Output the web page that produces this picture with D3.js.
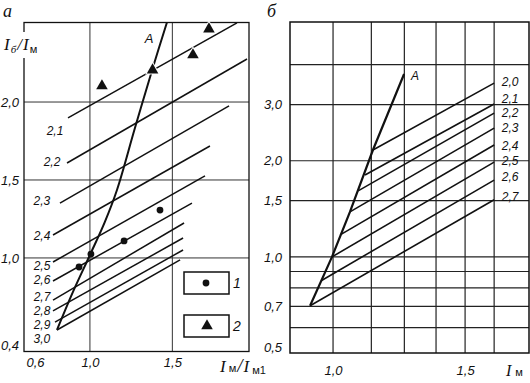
<!DOCTYPE html>
<html><head><meta charset="utf-8">
<script src="https://cdn.jsdelivr.net/npm/d3@7"></script>
<style>
html,body{margin:0;padding:0;background:#fff;}
svg{display:block;}
</style></head><body>
<svg id="c" width="530" height="383"></svg>
<script>
// ---------- panel а ----------
const leftLineLabels = ["2,1","2,2","2,3","2,4","2,5","2,6","2,7","2,8","2,9","3,0"];
const leftStartX = [0.867,0.861,0.818,0.776,0.776,0.776,0.776,0.776,0.788,0.800];
const leftStartY = [1.898,1.609,1.352,1.147,0.974,0.852,0.730,0.660,0.589,0.538];
const leftEndX   = [1.892,1.953,1.844,1.728,1.698,1.619,1.571,1.565,1.565,1.547];
const leftEndY   = [2.507,2.276,1.975,1.718,1.526,1.352,1.224,1.128,1.051,0.987];
const leftCurveAX = [0.800,0.897,1.000,1.090,1.164,1.273,1.383,1.467];
const leftCurveAY = [0.538,0.782,1.019,1.230,1.436,1.833,2.225,2.510];
const series1X = [0.934,1.006,1.207,1.425];
const series1Y = [0.942,1.025,1.109,1.307];
const series2X = [1.073,1.380,1.625,1.722];
const series2Y = [2.103,2.205,2.302,2.468];
const leftXTicks = [0.6,1.0,1.5];
const leftYTicks = [0.4,1.0,1.5,2.0];
const leftGridX = [1.0,1.5];
const leftGridY = [1.0,1.5,2.0];
const legendLabels = ["1","2"];

// ---------- panel б ----------
const rightLineLabels = ["2,0","2,1","2,2","2,3","2,4","2,5","2,6","2,7"];
const rightStartX = [1.151,1.121,1.095,1.064,1.027,0.996,0.955,0.913];
const rightStartY = [2.161,1.805,1.609,1.383,1.172,1.000,0.842,0.703];
const rightEndX   = [1.610,1.610,1.610,1.610,1.610,1.610,1.610,1.610];
const rightEndY   = [3.50,3.01,2.82,2.53,2.24,1.98,1.74,1.51];
const rightCurveAX = [0.913,0.996,1.064,1.151,1.269];
const rightCurveAY = [0.703,1.000,1.383,2.161,3.74];
const rightXTicks = [1.0,1.5];
const rightYTicks = [0.5,0.7,1.0,1.5,2.0,3.0];
const rightGridX = [1.0,1.145,1.27,1.39,1.5,1.61];
const rightGridY = [0.6,0.7,0.8,0.9,1.0,1.5,2.0,3.0,4.0];

// layout (pixel offsets of curve labels from line start / end)
const leftLabelOff = [[-13,13],[-15,-1],[-18,-2],[-11,1],[-11,4],[-11,-1],[-11,-3],[-11,0],[-13,3],[-15,9]];
const rightLabelOff = [[16,-1],[16,-5],[16,0],[16,0],[16,1],[16,-1],[16,-3],[16,-3]];

const NUM_FONT = "'Liberation Sans Narrow','Liberation Sans',sans-serif";
const SERIF = "'Liberation Serif','DejaVu Serif',serif";
const fmt = d => d3.format(".1f")(d).replace(".", ",");
const INK = "#111";
const LBL = 12;

const svg = d3.select("#c");
svg.append("rect").attr("width",530).attr("height",383).attr("fill","#fff");

function styleAxis(g, size){
  g.select(".domain").remove();
  g.attr("font-family", NUM_FONT).attr("font-size", size).attr("font-style","italic");
  g.selectAll("text").attr("fill", INK);
}

// ================= panel а =================
const xL = d3.scaleLinear().domain([0.6, 1.965]).range([24, 249]);
const yL = d3.scaleLinear().domain([0.4, 2.51]).range([351.5, 22.5]);
const gL = svg.append("g");

gL.selectAll(".gx").data(leftGridX).join("line")
  .attr("x1",d=>xL(d)).attr("x2",d=>xL(d)).attr("y1",yL.range()[0]).attr("y2",yL.range()[1])
  .attr("stroke","#333").attr("stroke-width",1);
gL.selectAll(".gy").data(leftGridY).join("line")
  .attr("y1",d=>yL(d)).attr("y2",d=>yL(d)).attr("x1",xL.range()[0]).attr("x2",xL.range()[1])
  .attr("stroke","#333").attr("stroke-width",1);
gL.append("rect").attr("x",xL.range()[0]).attr("y",yL.range()[1])
  .attr("width",xL.range()[1]-xL.range()[0]).attr("height",yL.range()[0]-yL.range()[1])
  .attr("fill","none").attr("stroke",INK).attr("stroke-width",1.3);

// parallel lines
gL.selectAll(".pl").data(leftLineLabels).join("line")
  .attr("x1",(d,i)=>xL(leftStartX[i])).attr("y1",(d,i)=>yL(leftStartY[i]))
  .attr("x2",(d,i)=>xL(leftEndX[i])).attr("y2",(d,i)=>yL(leftEndY[i]))
  .attr("stroke",INK).attr("stroke-width",1.5);
gL.selectAll(".pll").data(leftLineLabels).join("text")
  .attr("x",(d,i)=>xL(leftStartX[i])+leftLabelOff[i][0])
  .attr("y",(d,i)=>yL(leftStartY[i])+leftLabelOff[i][1])
  .attr("dy","0.36em").attr("text-anchor","middle")
  .attr("font-family",NUM_FONT).attr("font-style","italic").attr("font-size",LBL).attr("fill",INK)
  .text(d=>d);

// curve A
const lineA_L = d3.line().x(d=>xL(d[0])).y(d=>yL(d[1])).curve(d3.curveCatmullRom);
gL.append("path").attr("d", lineA_L(leftCurveAX.map((x,i)=>[x,leftCurveAY[i]])))
  .attr("fill","none").attr("stroke",INK).attr("stroke-width",2);
gL.append("text").attr("x",149).attr("y",43).attr("text-anchor","middle")
  .attr("font-family",NUM_FONT).attr("font-style","italic").attr("font-size",13).attr("fill",INK).text("A");

// series 1 (dots)
gL.selectAll(".s1").data(series1X).join("circle")
  .attr("cx",d=>xL(d)).attr("cy",(d,i)=>yL(series1Y[i])).attr("r",3.4).attr("fill",INK);
// series 2 (triangles)
const tri = d3.symbol(d3.symbolTriangle, 58);
gL.selectAll(".s2").data(series2X).join("path")
  .attr("d",tri).attr("transform",(d,i)=>`translate(${xL(d)},${yL(series2Y[i])})`)
  .attr("fill",INK).attr("stroke","#fff").attr("stroke-width",2).attr("paint-order","stroke");

// axes
const axL = gL.append("g").attr("transform",`translate(${xL.range()[0]},0)`)
  .call(d3.axisLeft(yL).tickValues(leftYTicks).tickSize(0).tickPadding(5).tickFormat(fmt));
styleAxis(axL, 13);
axL.selectAll("text").filter(d=>d===0.4).attr("dy","-0.15em");
const abL = gL.append("g").attr("transform",`translate(0,${yL.range()[0]})`)
  .call(d3.axisBottom(xL).tickValues(leftXTicks).tickSize(0).tickPadding(6).tickFormat(fmt));
styleAxis(abL, 13);
abL.selectAll("text").filter(d=>d===0.6).attr("dx",11);

// legend
const legY = [283, 326];
legendLabels.forEach((lab,i)=>{
  gL.append("rect").attr("x",184).attr("y",legY[i]-11).attr("width",45).attr("height",22)
    .attr("fill","#fff").attr("stroke",INK).attr("stroke-width",1.5);
  if(i===0) gL.append("circle").attr("cx",206).attr("cy",legY[i]).attr("r",3.4).attr("fill",INK);
  else gL.append("path").attr("d",tri).attr("transform",`translate(207,${legY[i]})`).attr("fill",INK);
  gL.append("text").attr("x",237).attr("y",legY[i]).attr("dy","0.36em").attr("text-anchor","middle")
    .attr("font-family",NUM_FONT).attr("font-style","italic").attr("font-size",14).attr("fill",INK).text(lab);
});

// y title
gL.append("rect").attr("x",18).attr("y",32).attr("width",12).attr("height",26).attr("fill","#fff");
const tY = gL.append("text").attr("x",4).attr("y",50).attr("font-family",SERIF).attr("font-style","italic")
  .attr("font-size",17).attr("fill",INK);
tY.append("tspan").text("I");
tY.append("tspan").attr("font-size",11).attr("dy",3).attr("dx",1).text("б");
tY.append("tspan").attr("dy",-3).attr("dx",1).text("/");
tY.append("tspan").attr("dx",1).text("I");
tY.append("tspan").attr("font-size",11).attr("font-style","normal").attr("font-family",NUM_FONT).attr("dy",3).attr("dx",1).text("м");

// x title
const tX = gL.append("text").attr("x",220).attr("y",372).attr("font-family",SERIF).attr("font-style","italic")
  .attr("font-size",17).attr("fill",INK);
tX.append("tspan").text("I");
tX.append("tspan").attr("font-size",11).attr("font-style","normal").attr("font-family",NUM_FONT).attr("dx",3).text("м");
tX.append("tspan").attr("dx",1).attr("font-size",19).text("/");
tX.append("tspan").attr("dx",1).text("I");
tX.append("tspan").attr("font-size",11).attr("font-style","normal").attr("font-family",NUM_FONT).attr("dx",3).attr("dy",2).text("м1");

// panel letter
svg.append("text").attr("x",3).attr("y",17).attr("font-family",SERIF).attr("font-style","italic")
  .attr("font-size",18).attr("fill",INK).text("а");

// ================= panel б =================
const xR = d3.scaleLinear().domain([0.837, 1.742]).range([290, 529]);
const yR = d3.scaleLog().domain([0.5, 5.44]).range([353, 22]);
const gR = svg.append("g");

gR.selectAll(".gx").data(rightGridX).join("line")
  .attr("x1",d=>xR(d)).attr("x2",d=>xR(d)).attr("y1",yR.range()[0]).attr("y2",yR.range()[1])
  .attr("stroke","#222").attr("stroke-width",1.2);
gR.selectAll(".gy").data(rightGridY).join("line")
  .attr("y1",d=>yR(d)).attr("y2",d=>yR(d)).attr("x1",xR.range()[0]).attr("x2",xR.range()[1])
  .attr("stroke","#222").attr("stroke-width",1.2);
gR.append("rect").attr("x",xR.range()[0]).attr("y",yR.range()[1])
  .attr("width",xR.range()[1]-xR.range()[0]).attr("height",yR.range()[0]-yR.range()[1])
  .attr("fill","none").attr("stroke",INK).attr("stroke-width",1.5);

gR.selectAll(".pl").data(rightLineLabels).join("line")
  .attr("x1",(d,i)=>xR(rightStartX[i])).attr("y1",(d,i)=>yR(rightStartY[i]))
  .attr("x2",(d,i)=>xR(rightEndX[i])).attr("y2",(d,i)=>yR(rightEndY[i]))
  .attr("stroke",INK).attr("stroke-width",1.6);
gR.selectAll(".pll").data(rightLineLabels).join("text")
  .attr("x",(d,i)=>xR(rightEndX[i])+rightLabelOff[i][0])
  .attr("y",(d,i)=>yR(rightEndY[i])+rightLabelOff[i][1])
  .attr("dy","0.36em").attr("text-anchor","middle")
  .attr("font-family",NUM_FONT).attr("font-style","italic").attr("font-size",LBL).attr("fill",INK)
  .text(d=>d);

const lineA_R = d3.line().x(d=>xR(d[0])).y(d=>yR(d[1]));
gR.append("path").attr("d", lineA_R(rightCurveAX.map((x,i)=>[x,rightCurveAY[i]])))
  .attr("fill","none").attr("stroke",INK).attr("stroke-width",2.2);
gR.append("text").attr("x",415).attr("y",80).attr("text-anchor","middle")
  .attr("font-family",NUM_FONT).attr("font-style","italic").attr("font-size",12).attr("fill",INK).text("A");

const axR = gR.append("g").attr("transform",`translate(${xR.range()[0]},0)`)
  .call(d3.axisLeft(yR).tickValues(rightYTicks).tickSize(0).tickPadding(8).tickFormat(fmt));
styleAxis(axR, 13);
axR.selectAll("text").filter(d=>d===0.5).attr("dy","-0.15em");
const abR = gR.append("g").attr("transform",`translate(0,${yR.range()[0]})`)
  .call(d3.axisBottom(xR).tickValues(rightXTicks).tickSize(0).tickPadding(13).tickFormat(fmt));
styleAxis(abR, 13);

const tX2 = gR.append("text").attr("x",506).attr("y",376).attr("font-family",SERIF).attr("font-style","italic")
  .attr("font-size",16).attr("fill",INK);
tX2.append("tspan").text("I");
tX2.append("tspan").attr("font-size",11).attr("font-style","normal").attr("font-family",NUM_FONT).attr("dx",4).text("м");

svg.append("text").attr("x",267).attr("y",17).attr("font-family",SERIF).attr("font-style","italic")
  .attr("font-size",18).attr("fill",INK).text("б");
</script>
</body></html>
